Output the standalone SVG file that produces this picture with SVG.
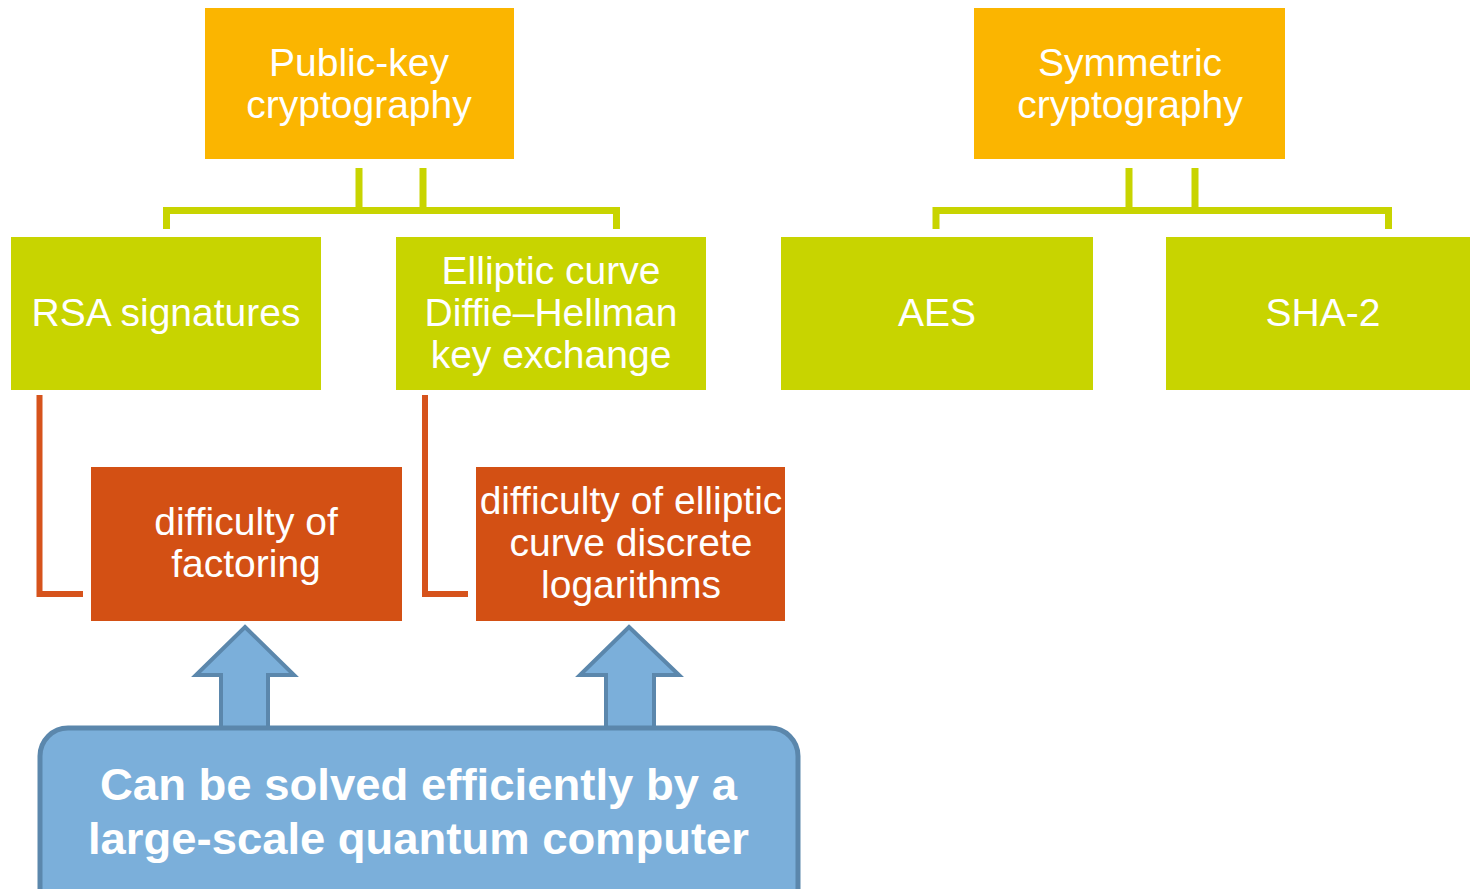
<svg xmlns="http://www.w3.org/2000/svg" width="1470" height="889" viewBox="0 0 1470 889">
  <style>
    .top { fill: #FBB500; }
    .leaf { fill: #C8D400; }
    .prob { fill: #D35014; }
    .lbl { font-family: "Liberation Sans", Arial, sans-serif; font-size: 39px; fill: #FFFFFF; text-anchor: middle; }
    .bus { fill: none; stroke: #C8D400; stroke-width: 7; stroke-linejoin: miter; }
    .link { fill: none; stroke: #D6531C; stroke-width: 6; }
    .up { fill: #7BAFDA; stroke: #5B87AC; stroke-width: 4; stroke-linejoin: miter; }
    .callout { fill: #7BAFDA; stroke: #5B87AC; stroke-width: 5; }
    .big { font-family: "Liberation Sans", Arial, sans-serif; font-weight: bold; font-size: 45px; fill: #FFFFFF; text-anchor: middle; }
  </style>

  <rect width="1470" height="889" fill="#FFFFFF"/>

  <!-- connectors -->
  <g id="connectors">
    <!-- public-key tree bracket -->
    <path class="bus" d="M359 168 V210.5 M423 168 V210.5 M166.5 229 V210.5 H616.5 V229"/>
    <!-- symmetric tree bracket -->
    <path class="bus" d="M1129 168 V210.5 M1195 168 V210.5 M936 229 V210.5 H1388.5 V229"/>
    <!-- elbows to the hardness assumptions -->
    <path class="link" d="M39.5 395 V594 H83"/>
    <path class="link" d="M425 395 V594 H468"/>
    <!-- upward block arrows from the quantum callout -->
    <polygon class="up" points="245,627 294,675 268,675 268,730 221,730 221,675 196,675"/>
    <polygon class="up" points="629,627 679,675 654,675 654,730 606,730 606,675 580,675"/>
  </g>

  <g id="public-key">
    <rect class="top" x="205" y="8" width="309" height="151"/>
    <text class="lbl" x="359" y="76">Public-key</text>
    <text class="lbl" x="359" y="118">cryptography</text>
  </g>

  <g id="symmetric">
    <rect class="top" x="974" y="8" width="311" height="151"/>
    <text class="lbl" x="1130" y="76">Symmetric</text>
    <text class="lbl" x="1130" y="118">cryptography</text>
  </g>

  <g id="rsa">
    <rect class="leaf" x="11" y="237" width="310" height="153"/>
    <text class="lbl" x="166" y="326">RSA signatures</text>
  </g>

  <g id="ecdh">
    <rect class="leaf" x="396" y="237" width="310" height="153"/>
    <text class="lbl" x="551" y="284">Elliptic curve</text>
    <text class="lbl" x="551" y="326">Diffie–Hellman</text>
    <text class="lbl" x="551" y="368">key exchange</text>
  </g>

  <g id="aes">
    <rect class="leaf" x="781" y="237" width="312" height="153"/>
    <text class="lbl" x="937" y="326">AES</text>
  </g>

  <g id="sha2">
    <rect class="leaf" x="1166" y="237" width="310" height="153"/>
    <text class="lbl" x="1323" y="326">SHA-2</text>
  </g>

  <g id="factoring">
    <rect class="prob" x="91" y="467" width="311" height="154"/>
    <text class="lbl" x="246" y="535">difficulty of</text>
    <text class="lbl" x="246" y="577">factoring</text>
  </g>

  <g id="ecdlp">
    <rect class="prob" x="476" y="467" width="309" height="154"/>
    <text class="lbl" x="631" y="514">difficulty of elliptic</text>
    <text class="lbl" x="631" y="556">curve discrete</text>
    <text class="lbl" x="631" y="598">logarithms</text>
  </g>

  <g id="quantum">
    <rect class="callout" x="40" y="728" width="758" height="200" rx="28" ry="28"/>
    <text class="big" x="418.5" y="800" textLength="637" lengthAdjust="spacingAndGlyphs">Can be solved efficiently by a</text>
    <text class="big" x="418.5" y="854" textLength="661" lengthAdjust="spacingAndGlyphs">large-scale quantum computer</text>
  </g>
</svg>
